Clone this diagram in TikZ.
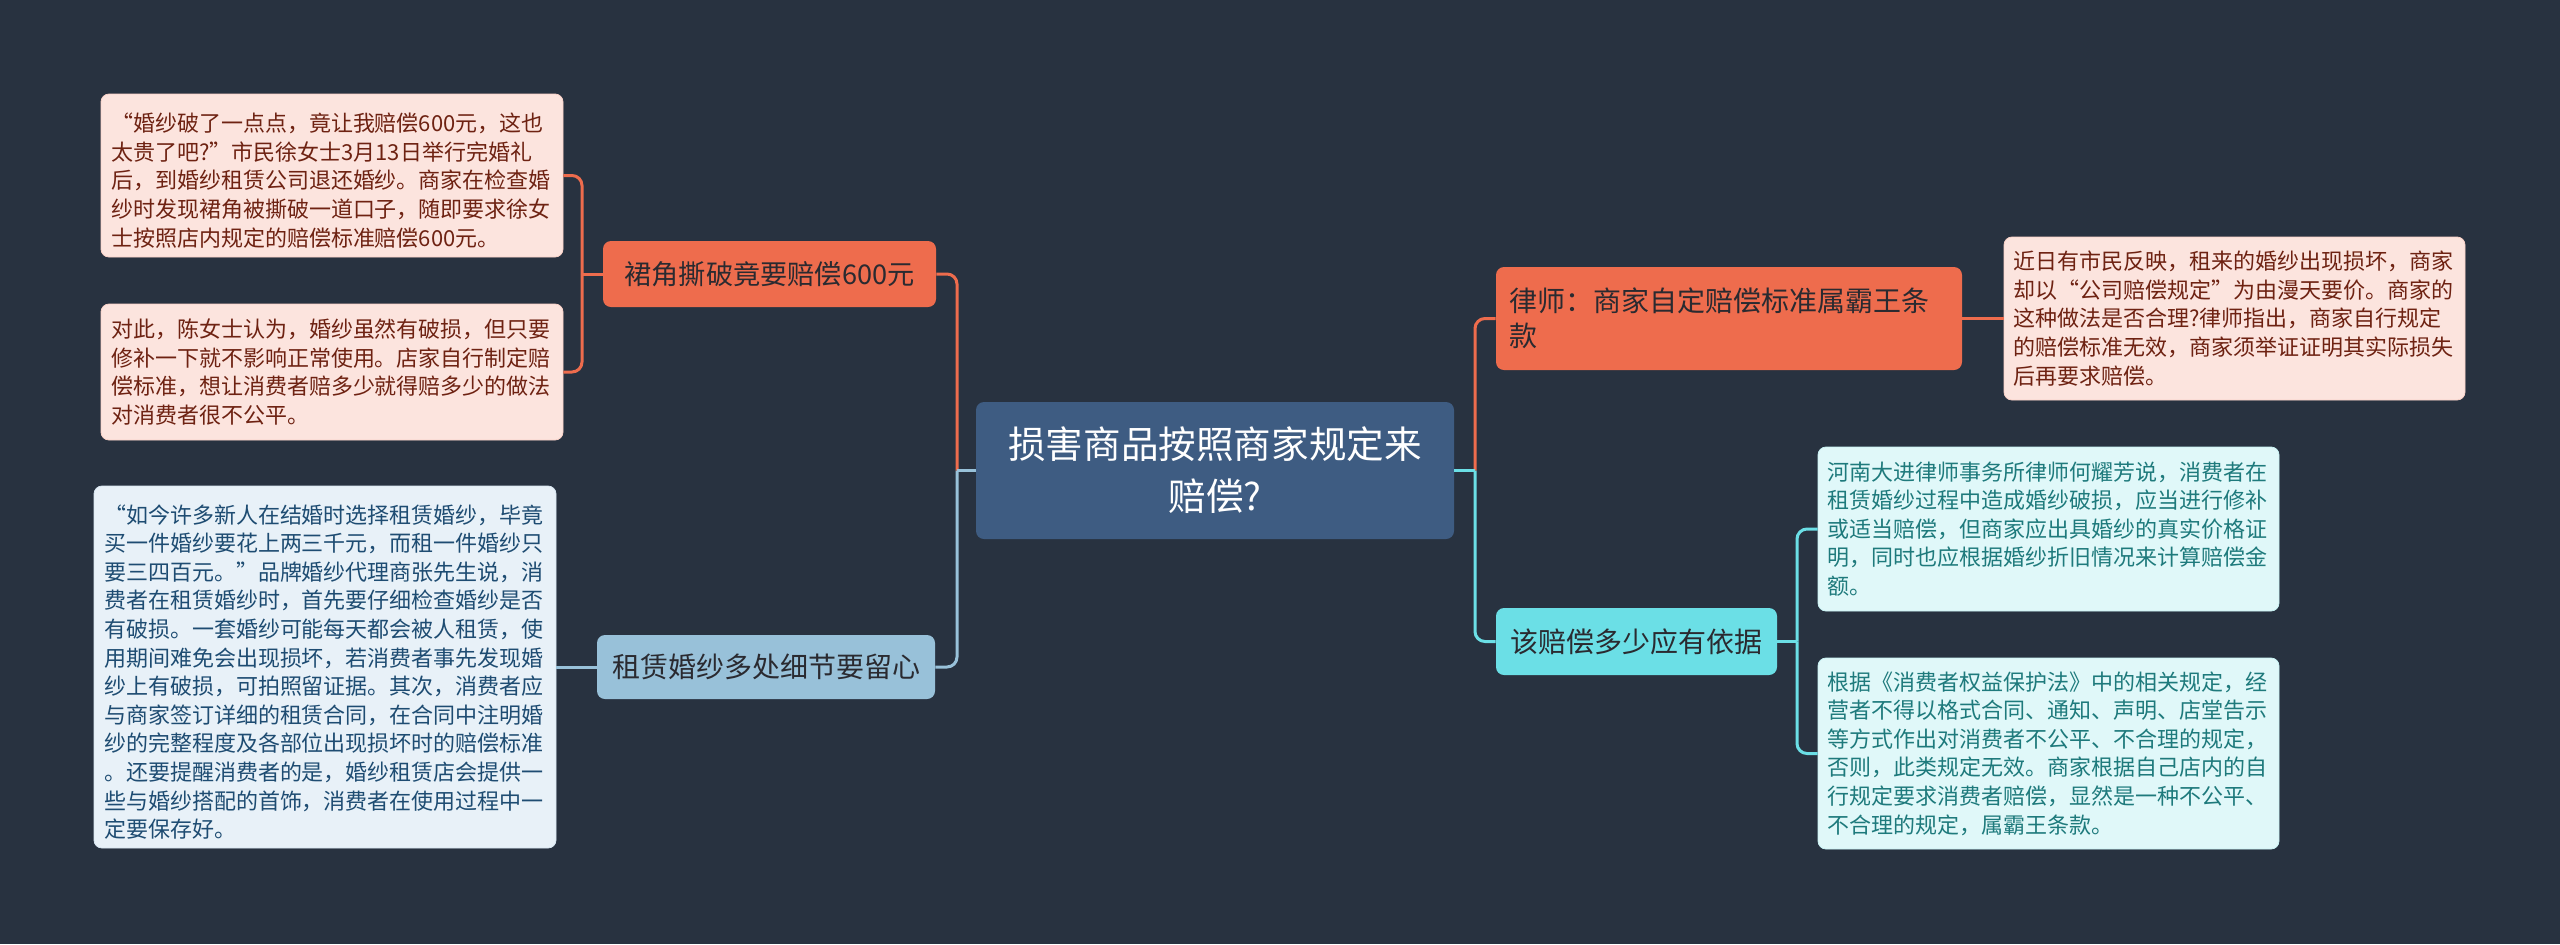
\documentclass[tikz,border=0pt]{standalone}
\usepackage{fontspec}
\setmainfont{Noto Sans CJK SC}
\definecolor{bg}{HTML}{283240}
\definecolor{rootfill}{HTML}{3E5C82}
\definecolor{orng}{HTML}{EE6C4D}
\definecolor{ltblue}{HTML}{98C1D9}
\definecolor{cyan2}{HTML}{6BDFE6}
\definecolor{pinkfill}{HTML}{FCE4DE}
\definecolor{pinktext}{HTML}{6E2212}
\definecolor{bluefill}{HTML}{E8F1F8}
\definecolor{bluetext}{HTML}{1E4C72}
\definecolor{cyanfill}{HTML}{E0F8F9}
\definecolor{cyantext}{HTML}{1E7A7C}
\definecolor{darktext}{HTML}{2A2A30}
\begin{document}
\begin{tikzpicture}[x=0.5pt,y=-0.5pt,
  basebox/.style={rectangle, rounded corners=4pt, inner sep=0pt},
  rootbox/.style={basebox, fill=rootfill, text=white, align=center,
    font=\fontsize{18.8}{26}\selectfont},
  midbox/.style={basebox, text=darktext, font=\fontsize{14}{17.5}\selectfont},
  leafbox/.style={basebox, align=left, text width=221pt,
    font=\fontsize{11}{14.3}\selectfont},
  pinkleaf/.style={leafbox, fill=pinkfill, draw=pinkfill!85!orng, line width=0.4pt, text=pinktext},
  blueleaf/.style={leafbox, fill=bluefill, draw=bluefill!80!ltblue, line width=0.4pt, text=bluetext},
  cyanleaf/.style={leafbox, fill=cyanfill, draw=cyanfill!80!cyan2, line width=0.4pt, text=cyantext},
  conn/.style={line width=1.5pt},
  rconn/.style={conn, rounded corners=5pt}
]
\fill[bg] (0,0) rectangle (2560,944);
\useasboundingbox (0,0) rectangle (2560,944);

% root
\node[rootbox, minimum width=239pt, minimum height=68.5pt] (root) at (1215,470.5)
  {损害商品按照商家规定来\\赔偿?};

% level 1
\node[midbox, fill=orng, align=center, minimum width=166.5pt, minimum height=33pt,
  font=\fontsize{13.6}{17}\selectfont] (orL) at (769.5,274) {裙角撕破竟要赔偿600元};
\node[midbox, fill=ltblue, align=center, minimum width=169pt, minimum height=32pt] (blL) at (766,667)
  {租赁婚纱多处细节要留心};
\node[midbox, fill=orng, align=left, text width=220pt, minimum width=233pt, minimum height=51.5pt] (orR) at (1729,318.5)
  {律师：商家自定赔偿标准属霸王条\\款};
\node[midbox, fill=cyan2, align=center, minimum width=140.5pt, minimum height=33.5pt] (cyR) at (1636.5,641.5)
  {该赔偿多少应有依据};

% leaves left
\node[pinkleaf, minimum width=231pt, minimum height=81.5pt] (lfA) at (332,175.5)
  {\hspace{0.9em}“婚纱破了一点点，竟让我赔偿600元，这也\\
   太贵了吧?”市民徐女士3月13日举行完婚礼\\
   后，到婚纱租赁公司退还婚纱。商家在检查婚\\
   纱时发现裙角被撕破一道口子，随即要求徐女\\
   士按照店内规定的赔偿标准赔偿600元。};
\node[pinkleaf, minimum width=231pt, minimum height=68pt] (lfB) at (332,372)
  {对此，陈女士认为，婚纱虽然有破损，但只要\\
   修补一下就不影响正常使用。店家自行制定赔\\
   偿标准，想让消费者赔多少就得赔多少的做法\\
   对消费者很不公平。};
\node[blueleaf, minimum width=231pt, minimum height=181pt] (lfC) at (325,667)
  {\hspace{0.9em}“如今许多新人在结婚时选择租赁婚纱，毕竟\\
   买一件婚纱要花上两三千元，而租一件婚纱只\\
   要三四百元。”品牌婚纱代理商张先生说，消\\
   费者在租赁婚纱时，首先要仔细检查婚纱是否\\
   有破损。一套婚纱可能每天都会被人租赁，使\\
   用期间难免会出现损坏，若消费者事先发现婚\\
   纱上有破损，可拍照留证据。其次，消费者应\\
   与商家签订详细的租赁合同，在合同中注明婚\\
   纱的完整程度及各部位出现损坏时的赔偿标准\\
   。还要提醒消费者的是，婚纱租赁店会提供一\\
   些与婚纱搭配的首饰，消费者在使用过程中一\\
   定要保存好。};

% leaves right
\node[pinkleaf, minimum width=230.5pt, minimum height=81.5pt] (lfD) at (2234.5,318.5)
  {近日有市民反映，租来的婚纱出现损坏，商家\\
   却以“公司赔偿规定”为由漫天要价。商家的\\
   这种做法是否合理?律师指出，商家自行规定\\
   的赔偿标准无效，商家须举证证明其实际损失\\
   后再要求赔偿。};
\node[cyanleaf, minimum width=230.5pt, minimum height=82pt] (lfE) at (2048.5,529)
  {河南大进律师事务所律师何耀芳说，消费者在\\
   租赁婚纱过程中造成婚纱破损，应当进行修补\\
   或适当赔偿，但商家应出具婚纱的真实价格证\\
   明，同时也应根据婚纱折旧情况来计算赔偿金\\
   额。};
\node[cyanleaf, minimum width=230.5pt, minimum height=95.5pt] (lfF) at (2048.5,753.5)
  {根据《消费者权益保护法》中的相关规定，经\\
   营者不得以格式合同、通知、声明、店堂告示\\
   等方式作出对消费者不公平、不合理的规定，\\
   否则，此类规定无效。商家根据自己店内的自\\
   行规定要求消费者赔偿，显然是一种不公平、\\
   不合理的规定，属霸王条款。};

% junctions
\coordinate (jL) at (957,470.5);
\coordinate (jLL) at (582,274);
\coordinate (jR) at (1475,470.5);
\coordinate (jRR) at (1797,641.5);

% connectors
\draw[rconn, orng] (jL) |- (orL.east);
\draw[rconn, ltblue] (jL) |- (blL.east);
\draw[conn, ltblue] (root.west) -- (jL);

\draw[conn, orng] (orL.west) -- (jLL);
\draw[rconn, orng] (jLL) |- (lfA.east);
\draw[rconn, orng] (jLL) |- (lfB.east);

\draw[conn, ltblue] (blL.west) -- (lfC.east);

\draw[rconn, orng] (jR) |- (orR.west);
\draw[rconn, cyan2] (jR) |- (cyR.west);
\draw[conn, cyan2] (root.east) -- (jR);

\draw[conn, orng] (orR.east) -- (lfD.west);

\draw[conn, cyan2] (cyR.east) -- (jRR);
\draw[rconn, cyan2] (jRR) |- (lfE.west);
\draw[rconn, cyan2] (jRR) |- (lfF.west);
\end{tikzpicture}
\end{document}
